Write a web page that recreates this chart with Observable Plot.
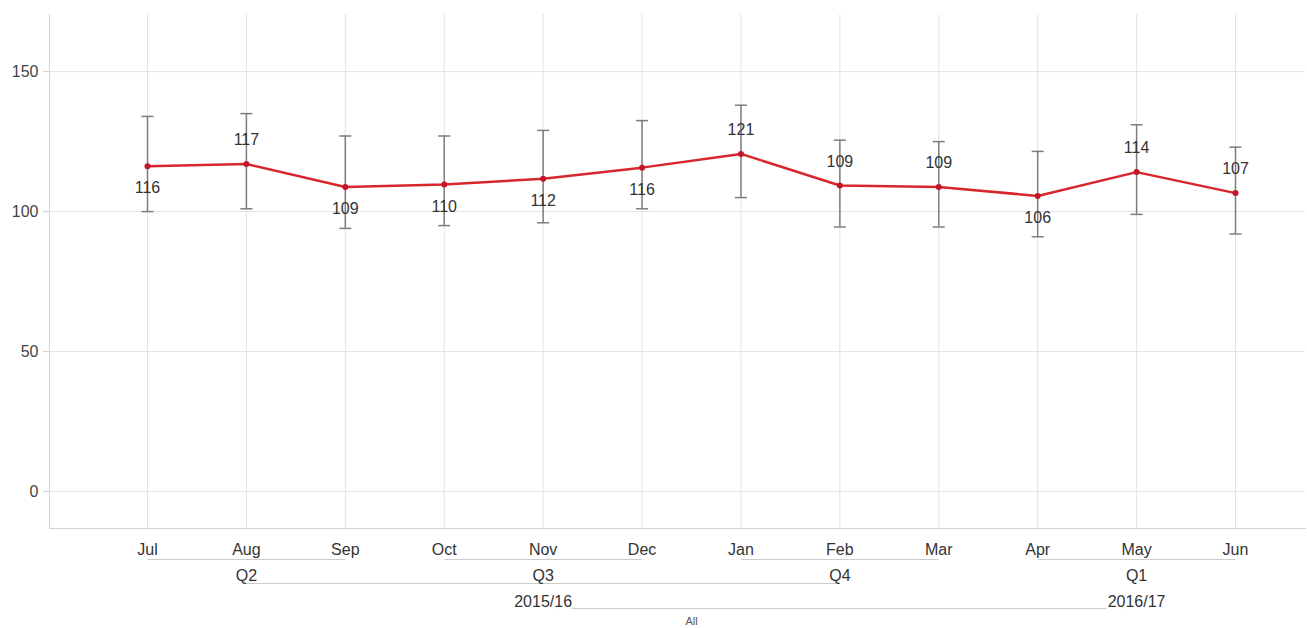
<!DOCTYPE html>
<html>
<head>
<meta charset="utf-8">
<script src="https://cdn.jsdelivr.net/npm/d3@7"></script>
<script src="https://cdn.jsdelivr.net/npm/@observablehq/plot@0.6"></script>
<style>
html, body { margin: 0; padding: 0; background: #fff; }
#chart svg { display: block; }
</style>
</head>
<body>
<div id="chart"></div>
<script>
// ---- data ----
const months = ["Jul","Aug","Sep","Oct","Nov","Dec","Jan","Feb","Mar","Apr","May","Jun"];
const quarters = ["Q2","Q2","Q2","Q3","Q3","Q3","Q4","Q4","Q4","Q1","Q1","Q1"];
const fiscalYears = ["2015/16","2015/16","2015/16","2015/16","2015/16","2015/16","2015/16","2015/16","2015/16","2016/17","2016/17","2016/17"];
const allLabel = "All";
const values = [116.2, 117.0, 108.8, 109.7, 111.7, 115.7, 120.6, 109.3, 108.8, 105.6, 114.1, 106.6];
const lower  = [100, 101, 94, 95, 96, 101, 105, 94.5, 94.5, 91, 99, 92];
const upper  = [134, 135, 127, 127, 129, 132.5, 138, 125.5, 125, 121.5, 131, 123];
const labelSide = ["below","above","below","below","below","below","above","above","above","below","above","above"];
const yTicks = [0, 50, 100, 150];
const levels = ["month","quarter","year","all"];

// ---- derived tables ----
const rows = months.map((m, i) => ({
  i, month: m, value: values[i], lo: lower[i], hi: upper[i], side: labelSide[i]
}));

function runs(keys) {
  const out = [];
  keys.forEach((k, i) => {
    const last = out[out.length - 1];
    if (last && last.label === k) last.last = i;
    else out.push({label: k, first: i, last: i});
  });
  out.forEach(d => d.mid = (d.first + d.last) / 2);
  return out;
}
const quarterRuns = runs(quarters);
const yearRuns = runs(fiscalYears).map(y => {
  const qs = quarterRuns.filter(q => q.first >= y.first && q.last <= y.last);
  return {...y, lineFrom: qs[0].mid, lineTo: qs[qs.length - 1].mid};
});
const allRun = [{label: allLabel, mid: (months.length - 1) / 2,
  lineFrom: yearRuns[0].mid, lineTo: yearRuns[yearRuns.length - 1].mid}];

const font = "Arial, 'Liberation Sans', sans-serif";
const xScale = {type: "linear", domain: [0, months.length - 1], insetLeft: 98, insetRight: 70, axis: null};
const gridColor = "#e4e4e4";
const barColor = "#7d7d7d";

const capSymbol = {draw(ctx) { ctx.moveTo(-6, 0); ctx.lineTo(6, 0); }};

const main = Plot.plot({
  width: 1307,
  height: 532,
  marginLeft: 49,
  marginRight: 2,
  marginTop: 14,
  marginBottom: 4,
  style: {fontFamily: font, fontSize: "16px", background: "#fff", color: "#333"},
  x: xScale,
  y: {domain: [-13.2, 170.4], label: null},
  marks: [
    Plot.ruleX(rows, {x: "i", stroke: gridColor}),
    Plot.ruleY(yTicks, {stroke: gridColor}),
    Plot.frame({anchor: "left", stroke: "#d2d2d2"}),
    Plot.frame({anchor: "bottom", stroke: "#d2d2d2"}),
    Plot.axisY(yTicks, {tickSize: 6, tickPadding: 5, stroke: "#cfcfcf", fill: "#444", fontSize: 16, label: null}),
    Plot.ruleX(rows, {x: "i", y1: "lo", y2: "hi", stroke: barColor, strokeWidth: 1.5}),
    Plot.dot(rows, {x: "i", y: "lo", symbol: capSymbol, fill: "none", stroke: barColor, strokeWidth: 1.5}),
    Plot.dot(rows, {x: "i", y: "hi", symbol: capSymbol, fill: "none", stroke: barColor, strokeWidth: 1.5}),
    Plot.line(rows, {x: "i", y: "value", stroke: "#d7272d", strokeWidth: 2.5}),
    Plot.dot(rows, {x: "i", y: "value", r: 3, fill: "#c4162a"}),
    Plot.text(rows, {filter: d => d.side === "above", x: "i", y: "value", text: d => String(Math.round(d.value)), dy: -24, fill: "#333", fontSize: 16}),
    Plot.text(rows, {filter: d => d.side === "below", x: "i", y: "value", text: d => String(Math.round(d.value)), dy: 22, fill: "#333", fontSize: 16})
  ]
});

const hier = Plot.plot({
  width: 1307,
  height: 96,
  marginLeft: 49,
  marginRight: 2,
  marginTop: 0,
  marginBottom: 0,
  style: {fontFamily: font, fontSize: "16px", background: "#fff", color: "#333"},
  x: xScale,
  y: {type: "point", domain: levels, range: [16, 96], padding: 0, axis: null},
  marks: [
    Plot.link(quarterRuns, {x1: "first", x2: "last", y1: () => "month", y2: () => "month", dy: 10, stroke: "#cccccc"}),
    Plot.link(yearRuns, {x1: "lineFrom", x2: "lineTo", y1: () => "quarter", y2: () => "quarter", dy: 8, stroke: "#cccccc"}),
    Plot.link(allRun, {x1: "lineFrom", x2: "lineTo", y1: () => "year", y2: () => "year", dy: 7, stroke: "#cccccc"}),
    Plot.text(rows, {x: "i", y: () => "month", text: "month", fill: "#333", fontSize: 16}),
    Plot.text(quarterRuns, {x: "mid", y: () => "quarter", text: "label", fill: "#333", fontSize: 16}),
    Plot.text(yearRuns, {x: "mid", y: () => "year", text: "label", fill: "#333", fontSize: 16, stroke: "#fff", strokeWidth: 5}),
    Plot.text(allRun, {x: "mid", y: () => "all", text: "label", fill: "#555", fontSize: 11, dy: -6})
  ]
});

const el = document.getElementById("chart");
el.appendChild(main);
el.appendChild(hier);
</script>
</body>
</html>
